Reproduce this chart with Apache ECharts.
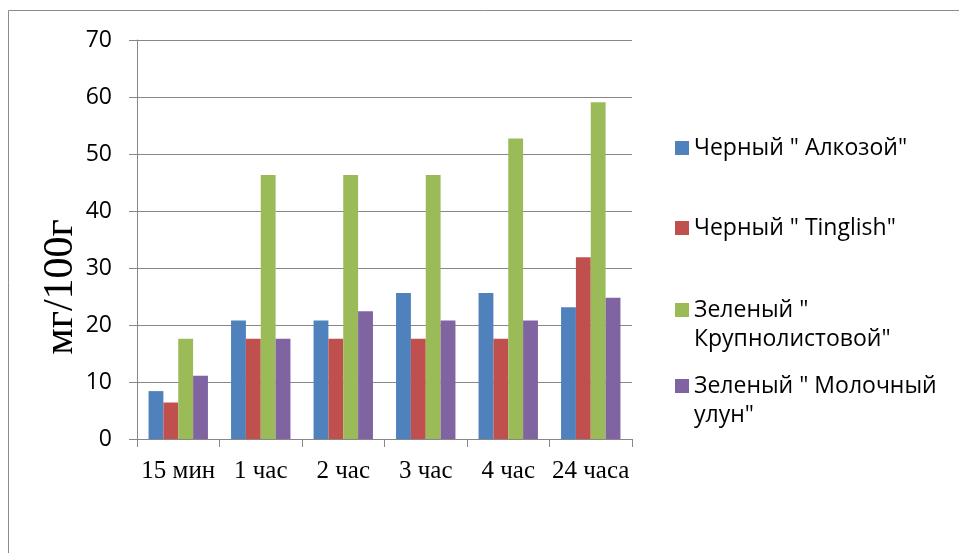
<!DOCTYPE html>
<html>
<head>
<meta charset="utf-8">
<script src="https://cdn.jsdelivr.net/npm/echarts@6/dist/echarts.min.js"></script>
<style>
  html, body { margin: 0; padding: 0; background: #ffffff; }
  #chart { width: 959px; height: 553px; }
</style>
</head>
<body>
<div id="chart"></div>
<script>
// Time points of the infusion
const categories = ['15 мин', '1 час', '2 час', '3 час', '4 час', '24 часа'];

// Series names
const seriesNames = [
  'Черный " Алкозой"',
  'Черный " Tinglish"',
  'Зеленый " Крупнолистовой"',
  'Зеленый " Молочный улун"'
];

// Values, мг/100г
const alkozoy = [8.4, 20.8, 20.8, 25.6, 25.6, 23.1];
const tinglish = [6.4, 17.6, 17.6, 17.6, 17.6, 31.9];
const krupnolistovoy = [17.6, 46.3, 46.3, 46.3, 52.7, 59.1];
const molochnyUlun = [11.1, 17.6, 22.4, 20.8, 20.8, 24.8];

const seriesValues = [alkozoy, tinglish, krupnolistovoy, molochnyUlun];
const colors = ['#4F81BD', '#C0504D', '#9BBB59', '#8064A2'];

// Legend text as wrapped in the side panel. A leading empty line keeps
// the first text line level with the colour square on wrapped entries.
const legendLabels = {
  'Черный " Алкозой"': 'Черный " Алкозой"',
  'Черный " Tinglish"': 'Черный " Tinglish"',
  'Зеленый " Крупнолистовой"': ' \nЗеленый "\nКрупнолистовой"',
  'Зеленый " Молочный улун"': ' \nЗеленый " Молочный\nулун"'
};

const LINE_H = 29;
// vertical centre of each colour square
const legendCenters = [148, 228, 310, 386];

const gridColor = '#878787';
const sansFont = '"Open Sans", "Noto Sans", sans-serif';
const serifFont = '"Liberation Serif", "DejaVu Serif", serif';

const legends = seriesNames.map((name, i) => {
  const lines = legendLabels[name].split('\n').length;
  const blockH = lines * LINE_H;
  return {
    show: true,
    orient: 'vertical',
    left: 675,
    top: legendCenters[i] - blockH / 2,
    padding: 0,
    itemWidth: 14,
    itemHeight: 14,
    itemGap: 0,
    icon: 'rect',
    data: [name],
    selectedMode: false,
    formatter: (n) => legendLabels[n],
    textStyle: {
      fontFamily: sansFont,
      fontSize: 23,
      color: '#000',
      lineHeight: LINE_H
    }
  };
});

const chart = echarts.init(document.getElementById('chart'), null, { renderer: 'canvas' });

chart.setOption({
  backgroundColor: '#ffffff',
  animation: false,
  color: colors,
  legend: legends,
  grid: { left: 137, top: 40, right: 327, bottom: 114, containLabel: false },
  xAxis: {
    type: 'category',
    data: categories,
    axisLine: { show: true, lineStyle: { color: gridColor, width: 1 } },
    axisTick: { show: true, alignWithLabel: false, interval: 0, length: 8, lineStyle: { color: gridColor } },
    axisLabel: {
      interval: 0,
      margin: 20,
      color: '#000',
      fontFamily: serifFont,
      fontSize: 25
    },
    splitLine: { show: false }
  },
  yAxis: {
    type: 'value',
    min: 0,
    max: 70,
    interval: 10,
    axisLine: { show: true, lineStyle: { color: gridColor, width: 1 } },
    axisTick: { show: true, length: 8, lineStyle: { color: gridColor } },
    axisLabel: {
      margin: 25,
      color: '#000',
      fontFamily: sansFont,
      fontSize: 23
    },
    splitLine: { show: true, lineStyle: { color: gridColor, width: 1 } }
  },
  graphic: [
    {
      type: 'rect',
      silent: true,
      shape: { x: 8.5, y: 10.5, width: 1000, height: 600 },
      style: { fill: 'none', stroke: '#8c8c8c', lineWidth: 1 }
    },
    {
      type: 'text',
      silent: true,
      x: 61,
      y: 287,
      rotation: Math.PI / 2,
      style: {
        text: 'мг/100г',
        fontFamily: serifFont,
        fontSize: 42,
        fill: '#000',
        align: 'center',
        verticalAlign: 'middle'
      }
    }
  ],
  series: seriesNames.map((name, i) => ({
    name: name,
    type: 'bar',
    data: seriesValues[i],
    barGap: '0%',
    barCategoryGap: '28%',
    itemStyle: { color: colors[i] }
  }))
});
</script>
</body>
</html>
